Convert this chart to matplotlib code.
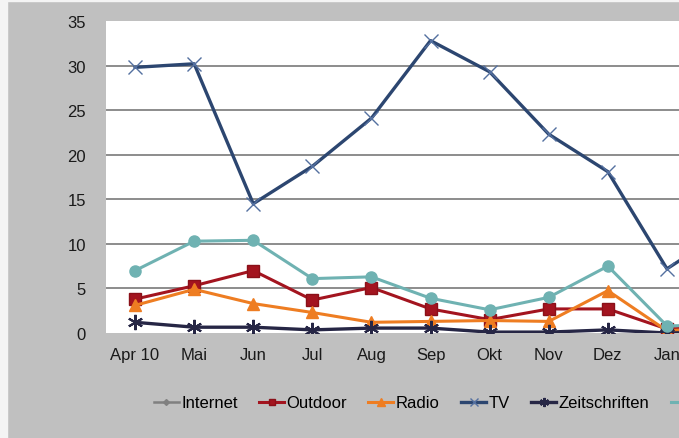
import numpy as np
import matplotlib as mpl
mpl.use("Agg")
import matplotlib.pyplot as plt

plt.rcParams['font.family']=['Liberation Sans','DejaVu Sans']

# months (last one lies beyond the visible crop)
months=['Apr 10','Mai','Jun','Jul','Aug','Sep','Okt','Nov','Dez','Jan','Feb']
internet=[np.nan]*11
outdoor=[3.8,5.3,7.0,3.7,5.1,2.7,1.5,2.7,2.7,0.45,0.7]
radio=[3.1,4.9,3.3,2.3,1.2,1.3,1.4,1.3,4.75,0.25,0.6]
tv=[29.8,30.2,14.5,18.7,24.1,32.8,29.3,22.3,18.1,7.2,11.5]
zeitschriften=[1.2,0.65,0.65,0.35,0.55,0.55,0.1,0.1,0.35,0.0,0.1]
zeitungen=[7.0,10.3,10.4,6.1,6.3,3.9,2.6,4.0,7.5,0.8,0.9]
yticks=[0,5,10,15,20,25,30,35]

bg='#c0c0c0'
fig=plt.figure(figsize=(6.79,4.39),dpi=100,facecolor=bg)
# white strips at the screenshot edges
fig.patches.append(plt.Rectangle((0,0),7/679,1,transform=fig.transFigure,color='#f4f4f4',zorder=0))
fig.patches.append(plt.Rectangle((0,0.995),1,0.005,transform=fig.transFigure,color='#f4f4f4',zorder=0))

step=59.1/679
left=105.5/679
bottom=1-334/439
height=(334-22)/439
ax=fig.add_axes([left,bottom,step*len(months),height])
ax.set_facecolor('white')
x=np.arange(len(months))

ax.plot(x,internet,color='#808080',marker='D',ms=5,lw=1.8,label='Internet')
ax.plot(x,outdoor,color='#a3141f',marker='s',ms=8,mec='#8a1019',lw=2.2,label='Outdoor')
ax.plot(x,radio,color='#ee7d22',marker='^',ms=9,lw=2.2,label='Radio')
ax.plot(x,tv,color='#2c4670',marker='x',ms=10,mew=1,mec='#5470a0',lw=2.4,label='TV')
ax.plot(x,zeitschriften,color='#262645',marker=(6,2,0),ms=11,mew=1.5,lw=2.4,label='Zeitschriften')
ax.plot(x,zeitungen,color='#6fb2b2',marker='o',ms=8,lw=2.2,label='Zeitungen')

ax.set_xlim(-0.5,len(months)-0.5)
ax.set_ylim(0,35)
ax.set_yticks(yticks)
ax.set_xticks(x)
ax.set_xticklabels(months,fontsize=12.5)
for s in ax.spines.values():
  s.set_visible(False)
ax.tick_params(axis='both',length=0,labelsize=12,colors='#1a1a1a')
ax.tick_params(axis='y',pad=14)
ax.tick_params(axis='x',pad=10)
ax.yaxis.grid(True,color='#8c8c8c',lw=1.4)
ax.set_axisbelow(True)
gl=ax.get_ygridlines()
gl[0].set_visible(False)
gl[-1].set_visible(False)

fig.legend(loc='center left',bbox_to_anchor=(147/679,1-404/439),ncol=6,frameon=False,
           fontsize=12,markerscale=0.6,handlelength=1.5,handletextpad=0.15,columnspacing=1.28,borderaxespad=0)

plt.savefig('out.png',dpi=100,facecolor=bg)
